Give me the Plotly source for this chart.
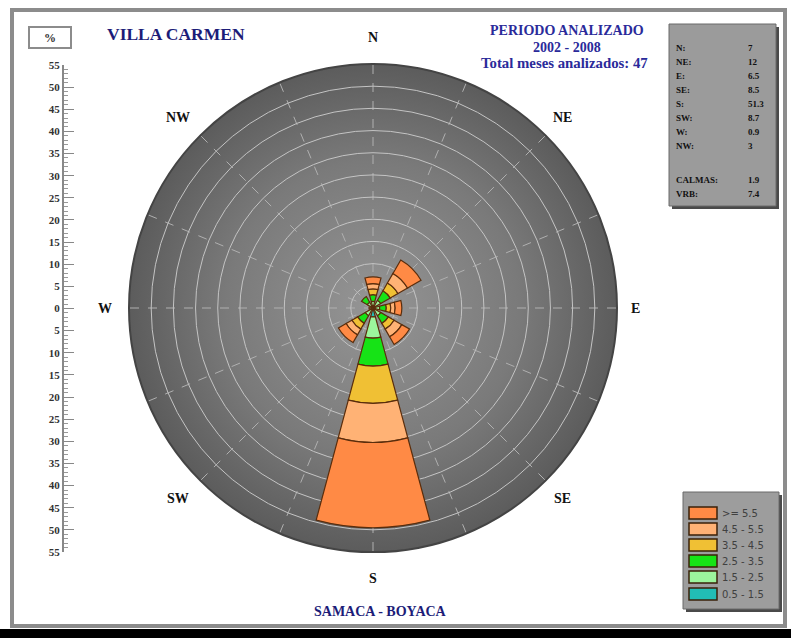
import base64
import plotly.graph_objects as go

W_PX, H_PX = 791, 638

directions = ["N", "NE", "E", "SE", "S", "SW", "W", "NW"]
theta_deg = [0, 45, 90, 135, 180, 225, 270, 315]

speed_bins = ["0.5 - 1.5", "1.5 - 2.5", "2.5 - 3.5", "3.5 - 4.5", "4.5 - 5.5", ">= 5.5"]
bin_colors = ["#22bdb5", "#9cf59c", "#16e316", "#f0c034", "#ffb275", "#ff8a45"]

# percentage contributions per direction (N, NE, E, SE, S, SW, W, NW)
freq_05_15 = [0.5, 0.5, 0.5, 0.5, 2.0, 0.5, 0.4, 0.5]
freq_15_25 = [1.0, 1.5, 1.0, 1.5, 4.8, 1.5, 0.5, 1.0]
freq_25_35 = [1.5, 2.5, 1.5, 2.0, 6.3, 2.0, 0.0, 1.5]
freq_35_45 = [1.3, 2.0, 1.0, 1.5, 8.4, 1.5, 0.0, 0.0]
freq_45_55 = [1.2, 2.5, 1.0, 2.0, 8.8, 1.5, 0.0, 0.0]
freq_ge_55 = [1.5, 3.5, 1.5, 2.0, 19.2, 2.0, 0.0, 0.0]
series = [freq_05_15, freq_15_25, freq_25_35, freq_35_45, freq_45_55, freq_ge_55]

table_labels = ["N:", "NE:", "E:", "SE:", "S:", "SW:", "W:", "NW:", "CALMAS:", "VRB:"]
table_values = ["7", "12", "6.5", "8.5", "51.3", "8.7", "0.9", "3", "1.9", "7.4"]

scale_ticks = list(range(-55, 60, 5))
scale_text = [f"<b>{abs(v)}</b>" for v in scale_ticks]


def px(x):
    return x / W_PX


def py(y):
    return 1 - y / H_PX


SERIF = "Liberation Serif"
NAVY = "#1c1c78"

# disk geometry (pixels)
CX, CY, R = 373, 308, 244
PAD = 0

fig = go.Figure()

for name, vals, col in zip(speed_bins, series, bin_colors):
    fig.add_trace(go.Barpolar(
        r=vals, theta=theta_deg, width=[30] * len(theta_deg), name=name,
        marker=dict(color=col, line=dict(color="#5a2d0c", width=1.2)),
        showlegend=False,
    ))

# dummy trace for the left percentage scale
fig.add_trace(go.Scatter(x=[0], y=[0], mode="markers", marker=dict(opacity=0),
                         showlegend=False, hoverinfo="skip", xaxis="x", yaxis="y"))

shapes = []
annotations = []


def note(text, x, y, size, color, family=SERIF, xanchor="center"):
    annotations.append(dict(x=px(x), y=py(y), xref="paper", yref="paper", text=text, showarrow=False,
                            xanchor=xanchor, yanchor="middle",
                            font=dict(family=family, size=size, color=color)))


# outer frame
shapes.append(dict(type="rect", xref="paper", yref="paper", x0=px(12), x1=px(785), y0=py(626), y1=py(10),
                   line=dict(color="#8c8c8c", width=4), fillcolor="rgba(0,0,0,0)"))
shapes.append(dict(type="rect", xref="paper", yref="paper", x0=0, x1=1, y0=0, y1=py(629),
                   line=dict(width=0), fillcolor="#000000"))

# % box
shapes.append(dict(type="rect", xref="paper", yref="paper", x0=px(29), x1=px(71), y0=py(48), y1=py(27),
                   line=dict(color="#8c8c8c", width=2), fillcolor="white"))
note("<b>%</b>", 50, 38, 12, "#333")

# compass labels
compass = [("N", 373, 37), ("NE", 562, 117), ("E", 635, 308), ("SE", 562, 498),
           ("S", 373, 578), ("SW", 178, 498), ("W", 105, 308), ("NW", 178, 117)]
for t, x, y in compass:
    note(f"<b>{t}</b>", x, y, 14, "#111")

# titles
note("<b>VILLA CARMEN</b>", 176, 34, 17.5, NAVY)
note("<b>PERIODO ANALIZADO</b>", 567, 31, 14, "#2a2a9a")
note("<b>2002 - 2008</b>", 567, 47, 14, "#2a2a9a")
note("<b>Total meses analizados: 47</b>", 564, 63, 14.8, "#2a2a9a")
note("<b>SAMACA - BOYACA</b>", 380, 611, 14, NAVY)

# stats table box
shapes.append(dict(type="rect", xref="paper", yref="paper", x0=px(672), x1=px(779), y0=py(209), y1=py(27),
                   line=dict(width=0), fillcolor="#4a4a4a"))
shapes.append(dict(type="rect", xref="paper", yref="paper", x0=px(669), x1=px(776), y0=py(206), y1=py(24),
                   line=dict(color="#6a6a6a", width=1), fillcolor="#9b9b9b"))
row_y = [48, 62, 76, 90, 104, 118, 132, 146, 180, 194]
for lab, val, y in zip(table_labels, table_values, row_y):
    note(f"<b>{lab}</b>", 674, y, 9, "#111", xanchor="left")
    note(f"<b>{val}</b>", 746, y, 9, "#111", xanchor="left")

# legend box
shapes.append(dict(type="rect", xref="paper", yref="paper", x0=px(686), x1=px(782), y0=py(612), y1=py(495),
                   line=dict(width=0), fillcolor="#4a4a4a"))
shapes.append(dict(type="rect", xref="paper", yref="paper", x0=px(683), x1=px(779), y0=py(609), y1=py(492),
                   line=dict(color="#6a6a6a", width=1), fillcolor="#9d9d9d"))
leg_rows = [594, 577, 561, 545, 529, 513]  # from 0.5-1.5 (bottom) to >=5.5 (top)
for name, col, y in zip(speed_bins, bin_colors, leg_rows):
    shapes.append(dict(type="rect", xref="paper", yref="paper", x0=px(689), x1=px(717), y0=py(y + 6),
                       y1=py(y - 6), line=dict(color="#3a2008", width=1.5), fillcolor=col))
    note(name, 720, y, 10, "#404040", family="DejaVu Sans", xanchor="left")

# radial gradient for the disk background
svg = (
    '<svg xmlns="http://www.w3.org/2000/svg" width="200" height="200" viewBox="0 0 200 200">'
    '<defs><radialGradient id="g" cx="50%" cy="50%" r="50%">'
    '<stop offset="0%" stop-color="#959595"/><stop offset="60%" stop-color="#7a7a7a"/>'
    '<stop offset="100%" stop-color="#5c5c5c"/></radialGradient></defs>'
    '<circle cx="100" cy="100" r="100" fill="url(#g)"/></svg>'
)
svg_uri = "data:image/svg+xml;base64," + base64.b64encode(svg.encode()).decode()

fig.update_layout(
    width=W_PX, height=H_PX,
    margin=dict(l=0, r=0, t=0, b=0, autoexpand=False),
    paper_bgcolor="white",
    plot_bgcolor="white",
    showlegend=False,
    images=[dict(source=svg_uri, xref="paper", yref="paper", x=px(CX - R), y=py(CY - R),
                 sizex=px(2 * R), sizey=2 * R / H_PX, xanchor="left", yanchor="top",
                 sizing="stretch", layer="below")],
    polar=dict(
        domain=dict(x=[px(CX - R - PAD), px(CX + R + PAD)], y=[py(CY + R + PAD), py(CY - R - PAD)]),
        bgcolor="rgba(0,0,0,0)",
        barmode="stack",
        radialaxis=dict(range=[0, 55], dtick=5, showticklabels=False, ticks="", showline=False,
                        gridcolor="#c4c4c4", gridwidth=1),
        angularaxis=dict(rotation=90, direction="clockwise", showticklabels=False, ticks="",
                         tickmode="array", tickvals=[i * 22.5 for i in range(16)],
                         gridcolor="#b0b0b0", griddash="dash", gridwidth=1,
                         showline=True, linecolor="#444444", linewidth=2),
    ),
    xaxis=dict(visible=False, domain=[0, 0.01], range=[-1, 1]),
    yaxis=dict(domain=[py(552), py(65)], range=[-55, 55], anchor="free", position=px(63),
               tickmode="array", tickvals=scale_ticks, ticktext=scale_text,
               ticks="inside", ticklen=10, tickcolor="#888", tickwidth=1,
               minor=dict(dtick=1, ticks="inside", ticklen=4, tickcolor="#999", tickwidth=1),
               showline=True, linecolor="#888", linewidth=2, showgrid=False, zeroline=False,
               tickfont=dict(family=SERIF, size=11, color="#333"), fixedrange=True),
    shapes=shapes,
    annotations=annotations,
)

post = (
    "document.documentElement.style.margin='0';document.documentElement.style.padding='0';"
    "document.documentElement.style.overflow='hidden';"
    "document.body.style.margin='0';document.body.style.padding='0';document.body.style.overflow='hidden';"
    "var d=document.getElementById('{plot_id}');d.style.position='fixed';d.style.left='0px';d.style.top='0px';"
)
fig.write_html("out.html", config={"displayModeBar": False}, post_script=post)
